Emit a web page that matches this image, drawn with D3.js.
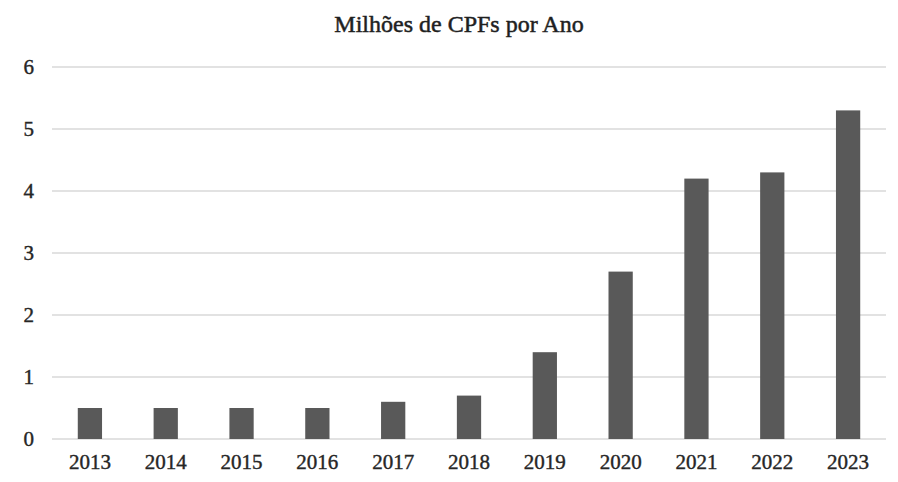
<!DOCTYPE html>
<html>
<head>
<meta charset="utf-8">
<script src="https://cdn.jsdelivr.net/npm/d3@7"></script>
<style>
  body { margin: 0; background: #fff; }
  text { font-family: "Liberation Serif", "DejaVu Serif", serif; }
</style>
</head>
<body>
<div id="chart"></div>
<script>
// data
var years = ["2013", "2014", "2015", "2016", "2017", "2018", "2019", "2020", "2021", "2022", "2023"];
var values = [0.5, 0.5, 0.5, 0.5, 0.6, 0.7, 1.4, 2.7, 4.2, 4.3, 5.3];
var yTicks = [0, 1, 2, 3, 4, 5, 6];
var title = "Milhões de CPFs por Ano";

var data = years.map(function (d, i) { return { year: d, value: values[i] }; });

// dimensions
var W = 898, H = 482;
var margin = { top: 67, right: 12, bottom: 43, left: 52 },
  width = W - margin.left - margin.right,
  height = H - margin.top - margin.bottom;

var svg = d3.select("#chart")
  .append("svg")
  .attr("width", W)
  .attr("height", H);

svg.append("text")
  .attr("x", 459)
  .attr("y", 32)
  .attr("text-anchor", "middle")
  .attr("font-size", 24)
  .attr("fill", "#1f1f1f")
  .attr("stroke", "#1f1f1f")
  .attr("stroke-width", 0.5)
  .text(title);

var g = svg.append("g")
  .attr("transform", "translate(" + margin.left + "," + margin.top + ")");

var x = d3.scaleBand()
  .range([0, width])
  .domain(years)
  .paddingInner(0.68)
  .paddingOuter(0.34);

var y = d3.scaleLinear()
  .domain([0, 6])
  .range([height, 0]);

// gridlines
g.append("g")
  .selectAll("line")
  .data(yTicks)
  .enter()
  .append("line")
  .attr("x1", 0)
  .attr("x2", width)
  .attr("y1", function (d) { return y(d); })
  .attr("y2", function (d) { return y(d); })
  .attr("stroke", "#d9d9d9")
  .attr("stroke-width", 1.3);

// y axis labels
var yAxis = g.append("g")
  .call(d3.axisLeft(y).tickValues(yTicks).tickSize(0).tickPadding(18).tickFormat(d3.format("d")));
yAxis.select(".domain").remove();
yAxis.selectAll("text")
  .attr("font-size", 21)
  .attr("fill", "#262626")
  .attr("stroke", "#262626")
  .attr("stroke-width", 0.4)
  .style("font-family", "'Liberation Serif', serif");

// x axis labels
var xAxis = g.append("g")
  .attr("transform", "translate(0," + height + ")")
  .call(d3.axisBottom(x).tickSize(0).tickPadding(15));
xAxis.select(".domain").remove();
xAxis.selectAll("text")
  .attr("font-size", 21)
  .attr("fill", "#262626")
  .attr("stroke", "#262626")
  .attr("stroke-width", 0.4)
  .style("font-family", "'Liberation Serif', serif");

// bars
g.selectAll("rect")
  .data(data)
  .enter()
  .append("rect")
  .attr("x", function (d) { return x(d.year); })
  .attr("y", function (d) { return y(d.value); })
  .attr("width", x.bandwidth())
  .attr("height", function (d) { return height - y(d.value); })
  .attr("fill", "#595959");
</script>
</body>
</html>
